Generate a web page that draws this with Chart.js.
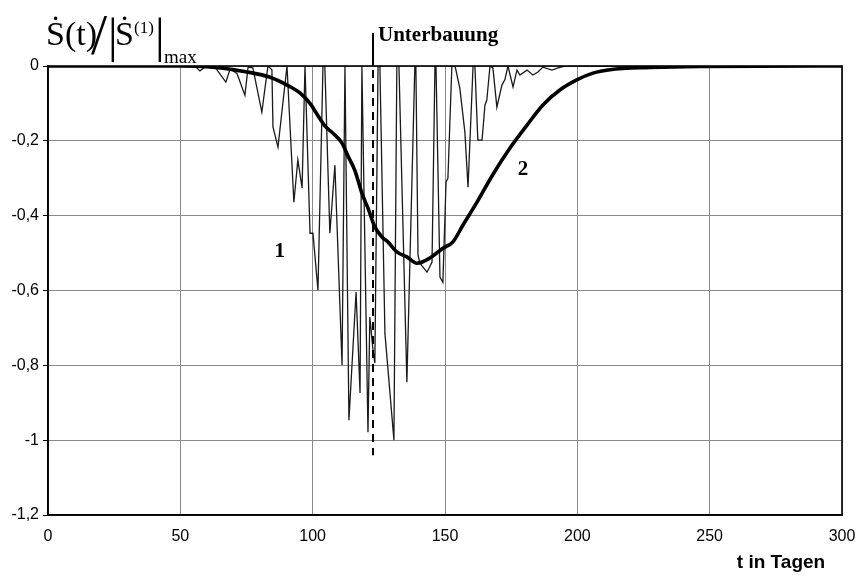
<!DOCTYPE html>
<html>
<head>
<meta charset="utf-8">
<script src="https://cdn.jsdelivr.net/npm/chart.js@4.4.1/dist/chart.umd.min.js"></script>
<style>
html,body{margin:0;padding:0;background:#fff;}
#wrap{position:relative;width:858px;height:575px;}
</style>
</head>
<body>
<div id="wrap"><canvas id="c" width="858" height="575"></canvas></div>
<script>
// ---- data ----
const xTickValues = [0, 50, 100, 150, 200, 250, 300];
const xTickLabels = ['0', '50', '100', '150', '200', '250', '300'];
const yTickValues = [0, -0.2, -0.4, -0.6, -0.8, -1.0, -1.2];
const yTickLabels = ['0', '-0,2', '-0,4', '-0,6', '-0,8', '-1', '-1,2'];

// curve 1 (daily measured rate, thin line)
const thinDays = [0, 55.5, 57.4, 59.3, 63.1, 67.2, 68.8, 71.4, 74.4, 75.6, 77.4, 80.8, 83.1, 84.6, 85.0, 86.9, 90.3,
  92.9, 94.4, 96.0, 97.1, 99.0, 100.1, 102.0, 103.9, 104.6, 106.5, 108.4, 111.1, 112.2,
  113.7, 116.4, 117.9, 118.6, 120.9, 121.6, 122.8, 123.5, 124.7, 125.4, 127.3, 130.7, 131.8,
  132.6, 135.6, 138.6, 139.0, 139.8, 140.5, 143.2, 145.1, 146.2, 146.6, 148.1, 149.2, 150.4, 151.1, 152.6,
  153.8, 155.6, 157.5, 158.7, 160.6, 161.3, 162.4, 164.0, 165.1, 165.8, 167.0, 168.1, 169.6, 171.5, 172.6, 173.8,
  175.7, 177.2, 178.3, 181.0, 183.2, 185.1, 187.0, 190.4, 192.7, 195.3, 300];
const thinValues = [0, 0, -0.013, -0.003, -0.003, -0.043, -0.008, -0.02, -0.078, -0.003, -0.005, -0.123, 0, -0.01, -0.163, -0.217, 0,
  -0.364, -0.251, -0.326, 0, -0.447, -0.447, -0.599, 0, 0, -0.447, -0.265, -0.8, 0,
  -0.947, -0.604, -0.874, 0, -0.979, -0.671, -0.759, -0.794, 0, 0, -0.714, -1.0, 0,
  0, -0.845, 0, 0, -0.505, -0.527, -0.551, -0.524, 0, 0, -0.564, -0.578, -0.31, -0.3, 0,
  0, -0.059, -0.176, -0.324, 0, 0, -0.198, -0.198, -0.104, -0.091, 0, -0.005, -0.11, -0.051, -0.037, 0,
  -0.056, -0.011, -0.024, -0.011, -0.024, -0.016, -0.003, -0.011, -0.005, 0, 0];

// curve 2 (smoothed rate, thick line)
const smoothDays = [0, 49.9, 62.3, 75.2, 83.9, 91.4, 95.2, 99.0, 101.6, 104.6, 107.7, 111.1, 113.3, 116.0, 118.6,
  120.9, 123.5, 126.2, 128.4, 131.8, 135.6, 139.4, 144.3, 149.2, 153.0, 156.8, 162.1, 168.1, 174.5, 181.0,
  187.0, 193.4, 199.8, 205.9, 212.3, 227.4, 246.3, 300];
const smoothValues = [0, 0, -0.003, -0.016, -0.03, -0.055, -0.072, -0.1, -0.128, -0.16, -0.18, -0.206, -0.24, -0.28, -0.34,
  -0.38, -0.43, -0.457, -0.47, -0.497, -0.51, -0.527, -0.513, -0.487, -0.47, -0.425, -0.364, -0.29, -0.22, -0.158,
  -0.104, -0.064, -0.037, -0.019, -0.01, -0.004, -0.001, 0];

const markerDay = 122.8;      // "Unterbauung"
const markerBottom = -1.04;
const markerText = 'Unterbauung';
const curveLabels = [{text: '1', x: 87.6, y: -0.497}, {text: '2', x: 179.5, y: -0.278}];
const xTitle = 't in Tagen';

const toPts = (xs, ys) => xs.map((x, i) => ({x: x, y: ys[i]}));

const overlay = {
  id: 'overlay',
  afterDraw(chart) {
    const ctx = chart.ctx, a = chart.chartArea;
    const xs = chart.scales.x, ys = chart.scales.y;
    ctx.save();
    // frame
    ctx.strokeStyle = '#000';
    ctx.lineWidth = 1.6;
    ctx.strokeRect(a.left, a.top, a.right - a.left, a.bottom - a.top);
    // marker line
    const mx = xs.getPixelForValue(markerDay);
    ctx.lineWidth = 2;
    ctx.beginPath(); ctx.moveTo(mx, 33); ctx.lineTo(mx, ys.getPixelForValue(0)); ctx.stroke();
    ctx.setLineDash([8, 6]);
    ctx.beginPath(); ctx.moveTo(mx, ys.getPixelForValue(0) + 4); ctx.lineTo(mx, ys.getPixelForValue(markerBottom)); ctx.stroke();
    ctx.setLineDash([]);
    ctx.fillStyle = '#000';
    ctx.textBaseline = 'alphabetic';
    ctx.textAlign = 'left';
    ctx.font = 'bold 21px "Liberation Serif", "DejaVu Serif", serif';
    ctx.fillText(markerText, mx + 5, 41);
    // curve labels
    ctx.textAlign = 'center';
    ctx.textBaseline = 'middle';
    ctx.font = 'bold 21px "Liberation Serif", serif';
    curveLabels.forEach(l => ctx.fillText(l.text, xs.getPixelForValue(l.x), ys.getPixelForValue(l.y)));
    // x title
    ctx.font = 'bold 19px "Liberation Sans", Arial, sans-serif';
    ctx.fillText(xTitle, 781, 563);
    // y title formula
    ctx.textAlign = 'left';
    ctx.textBaseline = 'alphabetic';
    const serif = '"Liberation Serif", "DejaVu Serif", serif';
    ctx.font = '34px ' + serif;
    ctx.fillText('\u1E60(t)', 46, 45);
    ctx.font = '58px ' + serif;
    ctx.fillText('/', 91, 54);
    ctx.font = '48px ' + serif;
    ctx.fillText('|', 108, 52);
    ctx.font = '34px ' + serif;
    ctx.fillText('\u1E60', 115, 45);
    ctx.font = '17px ' + serif;
    ctx.fillText('(1)', 134, 33);
    ctx.font = '48px ' + serif;
    ctx.fillText('|', 155, 52);
    ctx.font = '19px ' + serif;
    ctx.fillText('max', 164, 63);
    ctx.restore();
  }
};

new Chart(document.getElementById('c'), {
  type: 'line',
  data: {
    datasets: [
      {
        label: 'curve 2',
        data: toPts(smoothDays, smoothValues),
        borderColor: '#000',
        borderWidth: 3.6,
        pointRadius: 0,
        cubicInterpolationMode: 'monotone',
        fill: false
      },
      {
        label: 'curve 1',
        data: toPts(thinDays, thinValues),
        borderColor: '#1a1a1a',
        borderWidth: 1.3,
        pointRadius: 0,
        tension: 0,
        fill: false
      }
    ]
  },
  options: {
    responsive: false,
    animation: false,
    events: [],
    layout: {padding: {top: 66, right: 16, bottom: 0, left: 0}},
    plugins: {legend: {display: false}, tooltip: {enabled: false}},
    scales: {
      x: {
        type: 'linear', min: 0, max: 300,
        afterBuildTicks: s => { s.ticks = xTickValues.map(v => ({value: v})); },
        afterFit: s => { s.height = 60; s.paddingLeft = 0; s.paddingRight = 0; },
        ticks: {
          callback: (v, i) => xTickLabels[i],
          color: '#000', padding: 12, maxRotation: 0,
          font: {family: '"Liberation Sans", Arial, sans-serif', size: 16}
        },
        grid: {color: '#8a8a8a', lineWidth: 1, drawTicks: false},
        border: {color: '#000', width: 1.6}
      },
      y: {
        type: 'linear', min: -1.2, max: 0,
        afterBuildTicks: s => { s.ticks = yTickValues.map(v => ({value: v})); },
        afterFit: s => { s.width = 48; s.paddingTop = 0; s.paddingBottom = 0; },
        ticks: {
          callback: (v, i) => yTickLabels[i],
          color: '#000', padding: 4,
          font: {family: '"Liberation Sans", Arial, sans-serif', size: 16}
        },
        grid: {color: '#8a8a8a', lineWidth: 1, tickLength: 5, tickColor: '#000'},
        border: {color: '#000', width: 1.6}
      }
    }
  },
  plugins: [overlay]
});
</script>
</body>
</html>
